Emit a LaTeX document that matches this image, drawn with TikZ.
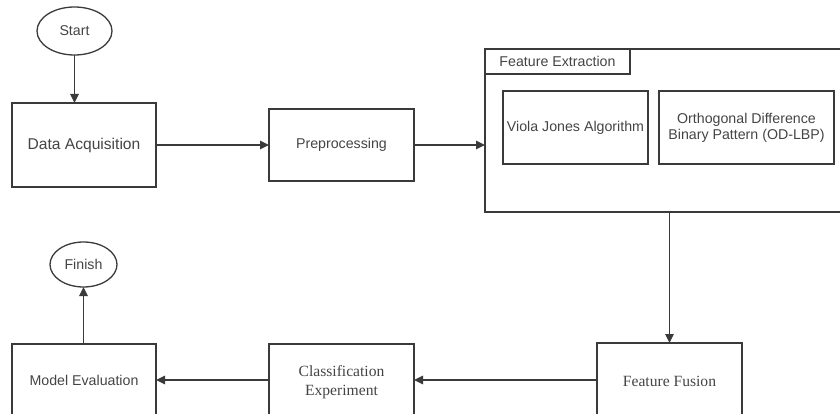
\documentclass[tikz,border=0pt]{standalone}
\usepackage{fontspec}
\setmainfont{Liberation Sans}
\newfontfamily\serifx{Liberation Serif}
\usetikzlibrary{arrows.meta,shapes.geometric}
\definecolor{ln}{HTML}{3A3A3A}
\definecolor{tx}{HTML}{444444}
\begin{document}
\begin{tikzpicture}[x=1pt,y=-1pt,
  every node/.style={inner sep=0pt,outer sep=0pt,text=tx},
  box/.style={draw=ln,line width=1.3pt,rectangle,font=\fontsize{14.2}{17}\selectfont},
  oval/.style={draw=ln,line width=1.3pt,ellipse,font=\fontsize{14.2}{17}\selectfont},
  conn/.style={draw=ln,line width=1.3pt,-{Triangle[length=9pt,width=8.5pt]}}]
\useasboundingbox (0,0) rectangle (840,414);
\clip (0,0) rectangle (840,414);
% top row
\node[oval,minimum width=75pt,minimum height=48pt] (start) at (74.5,31) {Start};
\node[box,minimum width=144pt,minimum height=84pt,font=\fontsize{15.6}{18}\selectfont] (acq) at (84,145) {Data Acquisition};
\node[box,minimum width=145pt,minimum height=72pt] (pre) at (341.5,145) {Preprocessing};
\node[box,minimum width=380pt,minimum height=163pt] (fe) at (675,130.5) {};
\node[box,minimum width=145pt,minimum height=25pt,anchor=north west] (fel) at (fe.north west) {Feature Extraction};
\node[box,minimum width=145pt,minimum height=73pt] (vj) at (575.5,127.5) {Viola Jones Algorithm};
\node[box,minimum width=175pt,minimum height=73pt,align=center] (od) at (746.5,127.5) {Orthogonal Difference\\[-1pt]Binary Pattern (OD-LBP)};
% bottom row
\node[oval,minimum width=67pt,minimum height=45pt] (fin) at (83.5,264.5) {Finish};
\node[box,minimum width=144pt,minimum height=84pt,anchor=north] (eval) at (84,344) {};
\node[text=tx,font=\fontsize{14.2}{17}\selectfont] (evalt) at (84,380) {Model Evaluation};
\node[box,minimum width=145pt,minimum height=84pt,anchor=north] (cls) at (341.5,344) {};
\node[text=tx,font=\serifx\fontsize{15.6}{19}\selectfont,align=center] (clst) at (341.5,382) {Classification\\Experiment};
\node[box,minimum width=145pt,minimum height=84pt,anchor=north] (fus) at (669.5,343) {};
\node[text=tx,font=\serifx\fontsize{15.6}{19}\selectfont] (fust) at (669.5,381) {Feature Fusion};
% connectors
\draw[conn] (start.south) -- (start.south |- acq.north);
\draw[conn] (acq.east) -- (pre.west);
\draw[conn] (pre.east) -- (pre.east -| fe.west);
\draw[conn] (fe.south -| fus.north) -- (fus.north);
\draw[conn] (fus.west |- evalt) -- (cls.east |- evalt);
\draw[conn] (cls.west |- evalt) -- (eval.east |- evalt);
\draw[conn] (eval.north -| fin.south) -- (fin.south);
\end{tikzpicture}
\end{document}
